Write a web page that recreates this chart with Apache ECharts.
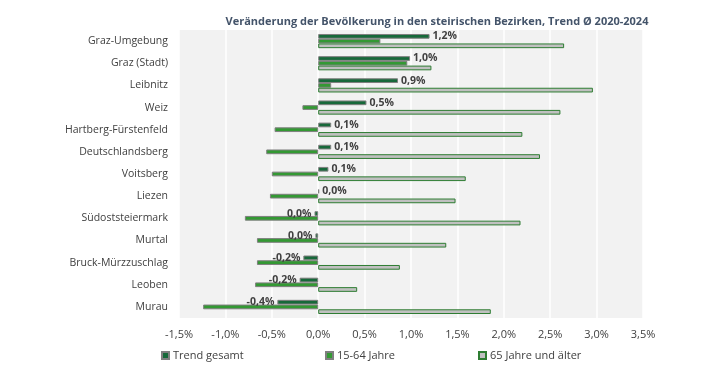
<!DOCTYPE html>
<html><head><meta charset="utf-8">
<script src="https://cdn.jsdelivr.net/npm/echarts@6/dist/echarts.min.js"></script>
<style>html,body{margin:0;padding:0;background:#fff}#c{width:709px;height:369px}</style>
</head><body><div id="c"></div>
<script>
const categories = ["Graz-Umgebung","Graz (Stadt)","Leibnitz","Weiz","Hartberg-Fürstenfeld","Deutschlandsberg","Voitsberg","Liezen","Südoststeiermark","Murtal","Bruck-Mürzzuschlag","Leoben","Murau"];
const trendGesamt = [1.20, 0.99, 0.86, 0.52, 0.14, 0.14, 0.11, 0.01, -0.04, -0.03, -0.16, -0.20, -0.44];
const jahre15bis64 = [0.67, 0.96, 0.14, -0.17, -0.47, -0.56, -0.50, -0.52, -0.79, -0.66, -0.66, -0.68, -1.24];
const jahre65plus = [2.65, 1.22, 2.96, 2.61, 2.20, 2.39, 1.59, 1.48, 2.18, 1.38, 0.88, 0.42, 1.86];
const xTicks = {min: -1.5, max: 3.5, interval: 0.5};
const seriesNames = ["Trend gesamt", "15-64 Jahre", "65 Jahre und älter"];

const fmt = v => { const r = Math.round(v * 10) / 10; return (r === 0 ? 0 : r).toFixed(1).replace('.', ',') + '%'; };
const FONT = "'Open Sans', sans-serif";
const TXT = '#404040';

const chart = echarts.init(document.getElementById('c'), null, {renderer: 'canvas'});
chart.setOption({
  animation: false,
  textStyle: {fontFamily: FONT},
  title: {
    text: 'Veränderung der Bevölkerung in den steirischen Bezirken, Trend Ø 2020-2024',
    left: 432, top: 11, textAlign: 'center',
    textStyle: {fontFamily: FONT, fontSize: 11, fontWeight: 'bold', color: '#44546a'}
  },
  legend: [0, 1, 2].map(i => ({
    data: [seriesNames[i]],
    left: [156, 320, 473][i], top: 345,
    icon: 'rect', itemWidth: 7, itemHeight: 7, itemGap: 4,
    textStyle: {fontFamily: FONT, fontSize: 11, color: TXT, padding: [0, 0, 0, -1]}
  })),
  grid: {left: 179, right: 66, top: 30, bottom: 51, show: true, backgroundColor: '#f2f2f2', borderWidth: 0},
  xAxis: {
    type: 'value', min: xTicks.min, max: xTicks.max, interval: xTicks.interval,
    axisLine: {show: false}, axisTick: {show: false},
    splitLine: {show: true, lineStyle: {color: '#ffffff', width: 1.5}},
    axisLabel: {formatter: v => v.toFixed(1).replace('.', ',') + '%', color: TXT, fontSize: 11, fontFamily: FONT, margin: 11}
  },
  yAxis: {
    type: 'category', data: categories, inverse: true,
    axisLine: {show: false, onZero: false}, axisTick: {show: false},
    axisLabel: {color: TXT, fontSize: 10.5, fontFamily: FONT, margin: 11}
  },
  series: [
    {
      name: seriesNames[0], type: 'bar', barGap: '0%', barCategoryGap: '36%',
      itemStyle: {color: '#17693a', borderColor: '#7f7f7f', borderWidth: 1},
      data: trendGesamt.map(v => ({
        value: v,
        label: {show: true, position: v < 0 ? 'left' : 'right', distance: 3, formatter: p => fmt(p.value),
          color: TXT, fontSize: 10.5, fontWeight: 'bold', fontFamily: FONT}
      }))
    },
    {
      name: seriesNames[1], type: 'bar', barGap: '0%', barCategoryGap: '36%',
      itemStyle: {color: '#339933', borderColor: '#7f7f7f', borderWidth: 1},
      data: jahre15bis64
    },
    {
      name: seriesNames[2], type: 'bar', barGap: '0%', barCategoryGap: '36%',
      itemStyle: {color: '#c0c0c0', borderColor: '#2e7d32', borderWidth: 1},
      data: jahre65plus
    }
  ]
});
</script></body></html>
